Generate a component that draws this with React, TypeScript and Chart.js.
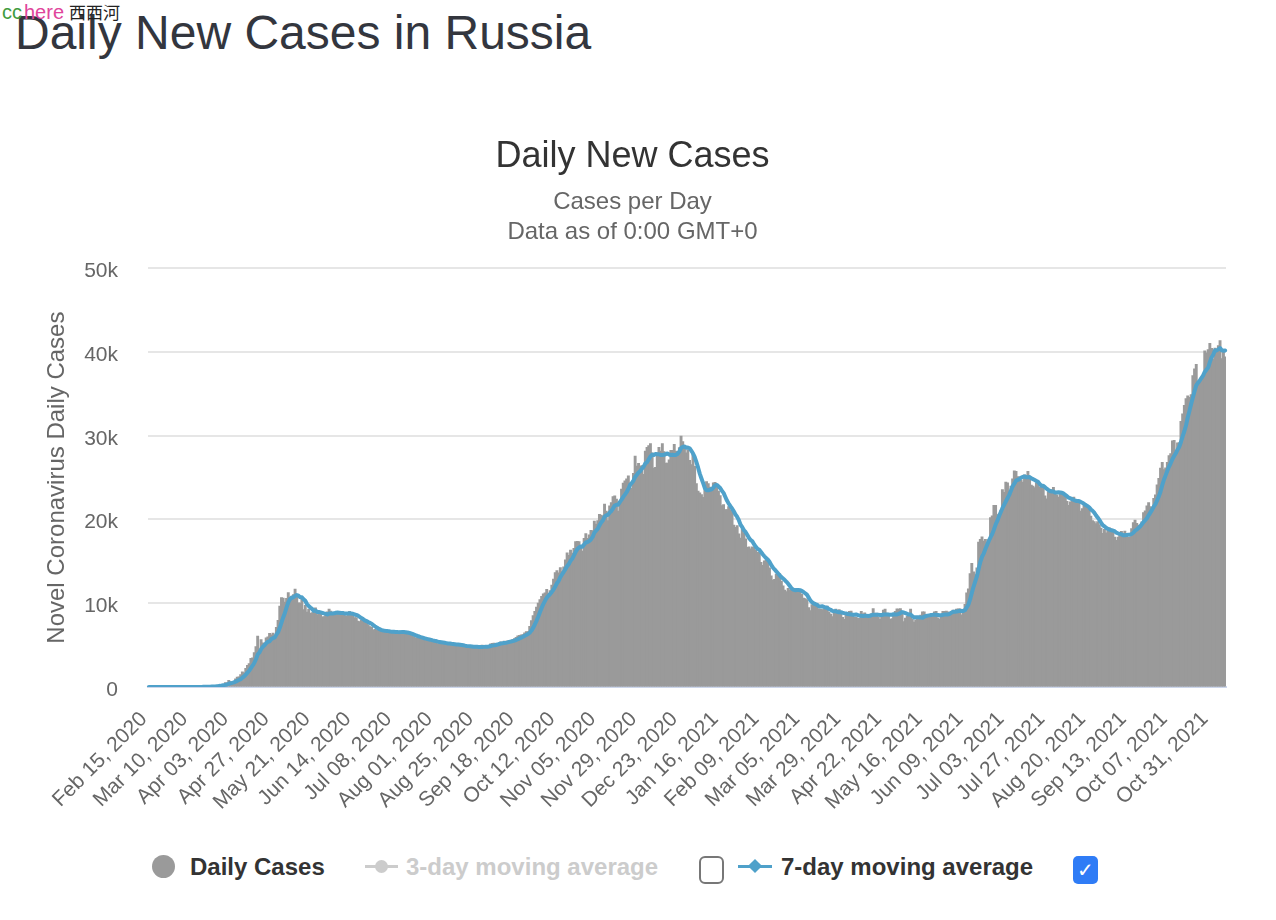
import React, { useEffect, useRef } from "react";
import { Chart, registerables } from "chart.js";

Chart.register(...registerables);

// ---------- DATA (daily new cases) ----------
const START_UTC = Date.UTC(2020, 1, 15); // Feb 15, 2020
const TICK_EVERY = 24; // an x label every 24 days

const feb2020 = [0, 0, 0, 0, 0, 0, 0, 0, 0, 0, 0, 0, 0, 0, 0];
const mar2020 = [0, 1, 0, 0, 1, 6, 4, 3, 0, 3, 8, 6, 11, 14, 4, 30, 21, 33, 52, 54, 53, 61, 71, 57, 163, 182, 196, 228, 270, 302, 501];
const apr2020 = [440, 771, 601, 582, 658, 954, 1154, 1175, 1459, 1786, 1667, 2186, 2558, 2774, 3388, 3448, 4070, 4785, 6060, 4268, 5642, 5236, 4774, 5849, 5966, 6361, 6198, 6411, 5841, 7099];
const may2020 = [7933, 9623, 10633, 10581, 10102, 10559, 11231, 10699, 10817, 11012, 11656, 10899, 10028, 9974, 10598, 9200, 9709, 8926, 9263, 8764, 8849, 8894, 9434, 8599, 8946, 8915, 8338, 8371, 8572, 8952, 9268];
const jun2020 = [9035, 8863, 8536, 8831, 8726, 8855, 8984, 8985, 8595, 8404, 8779, 8987, 8706, 8835, 8246, 8248, 7843, 7790, 7972, 7889, 7728, 7600, 7425, 7176, 7113, 6800, 6852, 6791, 6719, 6693];
const jul2020 = [6556, 6760, 6632, 6736, 6611, 6368, 6562, 6562, 6509, 6635, 6611, 6615, 6537, 6422, 6428, 6248, 6406, 6234, 6109, 5940, 5842, 5862, 5811, 5871, 5765, 5635, 5635, 5475, 5509, 5482, 5462];
const aug2020 = [5427, 5394, 5159, 5204, 5267, 5241, 5212, 5189, 5118, 5102, 4945, 5102, 5065, 5061, 5057, 4969, 4892, 4748, 4790, 4828, 4870, 4921, 4852, 4676, 4696, 4744, 4711, 4829, 4980, 4897, 4729];
const sep2020 = [4729, 4952, 5110, 5185, 5205, 5195, 5099, 5185, 5363, 5310, 5449, 5406, 5488, 5509, 5529, 5670, 5762, 5905, 6065, 6148, 6196, 6215, 6431, 6595, 6595, 7200, 7900, 8500, 9000, 9500];
const oct2020 = [10000, 10400, 10800, 11100, 11200, 11615, 11115, 11493, 12126, 12846, 13634, 13868, 13592, 14231, 13754, 14321, 15150, 15982, 15700, 16319, 15971, 16521, 17340, 17347, 17343, 16550, 16202, 17717, 18283, 17717, 18140];
const nov2020 = [18665, 18648, 19768, 19404, 19851, 20582, 20498, 20396, 21798, 20977, 19851, 21608, 21983, 22702, 22778, 22410, 20985, 22056, 23610, 24318, 24581, 24822, 25173, 24326, 23675, 25487, 27543, 26338, 26683, 26338];
const dec2020 = [26402, 25345, 28145, 28585, 28782, 29039, 27927, 26097, 26190, 27927, 28585, 28137, 29039, 28080, 26689, 26689, 27089, 28214, 28209, 28948, 28137, 27651, 28552, 29935, 29258, 28552, 27938, 28284, 27039, 26513, 27747];
const jan2021 = [26301, 24246, 23351, 23150, 22950, 22600, 23541, 24499, 24249, 23846, 23575, 24352, 24407, 23943, 23358, 22817, 21637, 21734, 21146, 21152, 21513, 21127, 20921, 19290, 19032, 19238, 18241, 17741, 19138, 18359, 17648];
const feb2021 = [16643, 16714, 16474, 16688, 16627, 16286, 16048, 15916, 14861, 14494, 15038, 15077, 15144, 14185, 13233, 12742, 12828, 13447, 13433, 13510, 12604, 12048, 11534, 11359, 11749, 11571, 11534, 11585];
const mar2021 = [11562, 11758, 11385, 11493, 11024, 10595, 10532, 10393, 9445, 9079, 9815, 10056, 9908, 9908, 9299, 9270, 9225, 9299, 9530, 9638, 8912, 8683, 8369, 8885, 9284, 9073, 9215, 8979, 8277, 8033, 8679];
const apr2021 = [8665, 9016, 9018, 8646, 8328, 8294, 8156, 8162, 8997, 8702, 8810, 8329, 8173, 8326, 8711, 9321, 8632, 8807, 8341, 8053, 8271, 9157, 9270, 8780, 8697, 8053, 8142, 8724, 9000, 9287];
const may2021 = [9270, 9328, 8863, 7770, 8195, 8419, 8697, 9270, 8035, 7723, 7974, 8217, 8380, 8554, 8947, 8948, 8283, 8310, 8457, 8632, 8702, 8951, 8998, 8215, 8062, 8373, 8997, 8997, 9035, 8947, 8733];
const jun2021 = [9015, 9145, 8983, 9268, 9289, 9301, 8594, 9022, 9848, 11198, 11699, 13510, 14723, 13721, 13397, 14185, 17262, 17611, 17906, 17378, 17594, 16715, 17594, 20182, 20393, 21665, 21650, 20538, 20616, 21042];
const jul2021 = [23543, 23218, 24439, 24353, 23378, 23962, 24818, 25766, 25704, 25082, 25018, 24702, 24439, 25293, 25116, 25704, 25142, 24072, 23947, 23770, 24326, 24471, 23811, 23811, 24072, 22804, 22420, 23270, 23564, 23508, 23807];
const aug2021 = [23089, 22920, 22640, 23089, 23304, 22777, 22626, 22124, 21653, 22071, 22432, 22644, 22124, 22328, 22124, 20984, 21265, 21655, 21558, 21400, 21192, 20381, 19830, 19709, 19486, 19706, 19348, 18935, 18325, 18780, 18377];
const sep2021 = [18780, 18985, 18856, 18645, 17856, 17473, 17856, 18341, 18554, 18178, 18592, 17964, 17837, 17856, 18891, 19594, 19905, 19500, 19300, 19100, 19700, 20800, 21000, 21600, 22000, 21500, 21400, 22500, 22900, 24100];
const oct2021 = [24888, 26110, 26781, 25932, 26133, 26781, 27604, 27846, 29362, 29409, 28190, 29117, 29117, 31699, 32596, 33608, 34400, 34725, 34540, 34873, 37139, 37941, 38478, 36460, 36460, 36846, 36982, 40096, 39849, 40251, 40993];
const nov2021 = [40402, 39160, 40443, 40217, 40735, 41335, 39165, 40000, 39400];

const dailyCases: number[] = [
  ...feb2020, ...mar2020, ...apr2020, ...may2020, ...jun2020, ...jul2020,
  ...aug2020, ...sep2020, ...oct2020, ...nov2020, ...dec2020,
  ...jan2021, ...feb2021, ...mar2021, ...apr2021, ...may2021, ...jun2021,
  ...jul2021, ...aug2021, ...sep2021, ...oct2021, ...nov2021,
];

const yTickValues = [0, 10000, 20000, 30000, 40000, 50000];
const MONTHS = ["Jan", "Feb", "Mar", "Apr", "May", "Jun", "Jul", "Aug", "Sep", "Oct", "Nov", "Dec"];

// category labels: one per day
const categories: string[] = dailyCases.map((_, i) => {
  const d = new Date(START_UTC + i * 86400000);
  const day = String(d.getUTCDate()).padStart(2, "0");
  return `${MONTHS[d.getUTCMonth()]} ${day}, ${d.getUTCFullYear()}`;
});

// 7-day moving average derived from the daily values
const sevenDayAvg: number[] = dailyCases.map((_, i) => {
  const from = Math.max(0, i - 6);
  const win = dailyCases.slice(from, i + 1);
  return win.reduce((a, b) => a + b, 0) / win.length;
});

const FONT = '"Liberation Sans", Arial, Helvetica, sans-serif';
const LINE_BLUE = "#4fa1ca";
const BAR_GREY = "#9a9a9a";

export default function App() {
  const canvasRef = useRef<HTMLCanvasElement | null>(null);

  useEffect(() => {
    const canvas = canvasRef.current;
    if (!canvas) return;
    const chart = new Chart(canvas, {
      type: "bar",
      data: {
        labels: categories,
        datasets: [
          {
            type: "line",
            label: "7-day moving average",
            data: sevenDayAvg,
            borderColor: LINE_BLUE,
            backgroundColor: LINE_BLUE,
            borderWidth: 4,
            pointRadius: 0,
            fill: false,
            tension: 0,
            borderJoinStyle: "round",
            borderCapStyle: "round",
            order: 0,
          } as any,
          {
            type: "bar",
            label: "Daily Cases",
            data: dailyCases,
            backgroundColor: BAR_GREY,
            borderWidth: 0,
            barPercentage: 1,
            categoryPercentage: 1,
            inflateAmount: 0.6,
            order: 1,
          } as any,
        ],
      },
      options: {
        responsive: false,
        animation: false,
        events: [],
        layout: { padding: { left: 39, right: 50, top: 0, bottom: 0 } },
        plugins: {
          legend: { display: false },
          tooltip: { enabled: false },
          title: {
            display: true,
            text: "Daily New Cases",
            color: "#333333",
            font: { family: FONT, size: 36, weight: "normal", lineHeight: 1.2 },
            padding: { top: 35, bottom: 4 },
          },
          subtitle: {
            display: true,
            text: ["Cases per Day", "Data as of 0:00 GMT+0"],
            color: "#666666",
            font: { family: FONT, size: 24, weight: "normal", lineHeight: 1.25 },
            padding: { top: 5, bottom: 21 },
          },
        },
        scales: {
          x: {
            type: "category",
            offset: true,
            grid: { display: false, drawTicks: false },
            border: { display: true, color: "#ccd6eb", width: 2 },
            ticks: {
              autoSkip: false,
              minRotation: 45,
              maxRotation: 45,
              color: "#666666",
              font: { family: FONT, size: 21, lineHeight: 1.2 },
              padding: 20,
              labelOffset: -5,
              callback: (_v: any, i: number) => (i % TICK_EVERY === 0 ? categories[i] : null),
            },
            afterFit: (s: any) => {
              s.height = 153;
            },
          },
          y: {
            min: 0,
            max: 50000,
            afterBuildTicks: (s: any) => {
              s.ticks = yTickValues.map((v) => ({ value: v }));
            },
            grid: { color: "#e6e6e6", lineWidth: 2, drawTicks: false },
            border: { display: false },
            ticks: {
              color: "#666666",
              font: { family: FONT, size: 21 },
              padding: 30,
              labelOffset: 3,
              callback: (v: any) => (Number(v) === 0 ? "0" : `${Number(v) / 1000}k`),
            },
            title: {
              display: true,
              text: "Novel Coronavirus Daily Cases",
              color: "#666666",
              font: { family: FONT, size: 24, weight: "normal", lineHeight: 1.2 },
              padding: { top: 4, bottom: 4 },
            },
            afterFit: (s: any) => {
              s.width = 109;
            },
          },
        },
      } as any,
    });
    return () => chart.destroy();
  }, []);

  const legendText: React.CSSProperties = {
    position: "absolute",
    top: 855,
    fontFamily: FONT,
    fontWeight: "bold",
    fontSize: 24,
    lineHeight: "24px",
    whiteSpace: "nowrap",
  };

  return (
    <div style={{ position: "absolute", left: 0, top: 0, width: 1276, height: 920, background: "#ffffff", overflow: "hidden" }}>
      {/* page title */}
      <div
        style={{
          position: "absolute",
          left: 15,
          top: 9,
          fontFamily: FONT,
          fontSize: 48,
          lineHeight: "48px",
          color: "#33363e",
          whiteSpace: "nowrap",
        }}
      >
        Daily New Cases in Russia
      </div>
      {/* watermark */}
      <div style={{ position: "absolute", left: 2, top: 2, whiteSpace: "nowrap", lineHeight: "20px" }}>
        <span style={{ fontFamily: FONT, fontSize: 20, color: "#3f9b3f" }}>cc</span>
        <span style={{ fontFamily: FONT, fontSize: 20, color: "#e0459b", marginLeft: 2 }}>here</span>
        <span style={{ fontFamily: '"Noto Sans CJK SC", sans-serif', fontSize: 17, color: "#222222", marginLeft: 5 }}>西西河</span>
      </div>

      <canvas
        ref={canvasRef}
        width={1276}
        height={740}
        style={{ position: "absolute", left: 0, top: 100, width: 1276, height: 740 }}
      />

      {/* legend */}
      <div style={{ position: "absolute", left: 152, top: 855, width: 23, height: 23, borderRadius: "50%", background: BAR_GREY }} />
      <div style={{ ...legendText, left: 190, color: "#333333" }}>Daily Cases</div>

      <div style={{ position: "absolute", left: 365, top: 865, width: 33, height: 3, background: "#cccccc" }} />
      <div style={{ position: "absolute", left: 375, top: 860, width: 13, height: 13, borderRadius: "50%", background: "#cccccc" }} />
      <div style={{ ...legendText, left: 406, color: "#cccccc" }}>3-day moving average</div>

      <div
        style={{
          position: "absolute",
          left: 699,
          top: 856,
          width: 25,
          height: 28,
          boxSizing: "border-box",
          border: "2px solid #777777",
          borderRadius: 6,
          background: "#ffffff",
        }}
      />

      <div style={{ position: "absolute", left: 738, top: 865, width: 34, height: 3, background: LINE_BLUE }} />
      <div style={{ position: "absolute", left: 750, top: 861, width: 10, height: 10, background: LINE_BLUE, transform: "rotate(45deg)" }} />
      <div style={{ ...legendText, left: 781, color: "#333333" }}>7-day moving average</div>

      <div
        style={{
          position: "absolute",
          left: 1073,
          top: 856,
          width: 25,
          height: 28,
          borderRadius: 5,
          background: "#2f7cf6",
          color: "#ffffff",
          fontFamily: '"DejaVu Sans", sans-serif',
          fontSize: 20,
          lineHeight: "28px",
          textAlign: "center",
        }}
      >
        ✓
      </div>
    </div>
  );
}
